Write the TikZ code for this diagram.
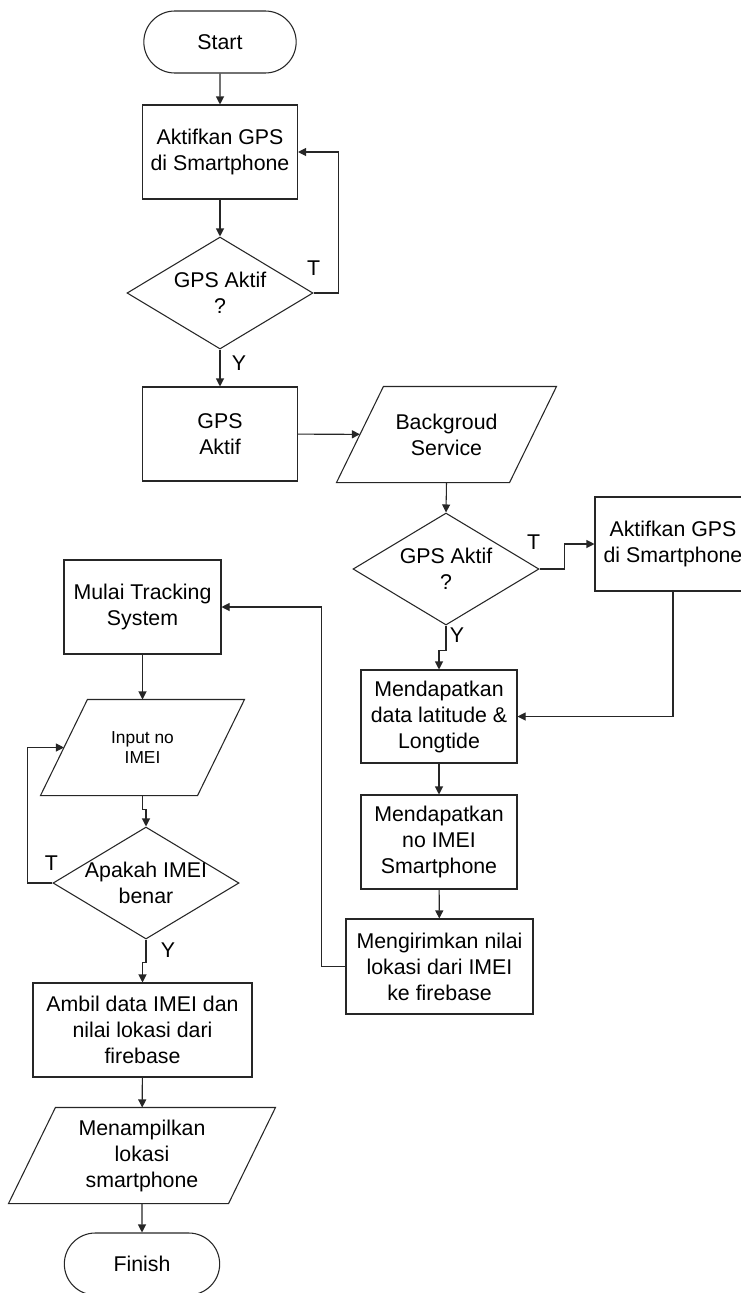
\documentclass[tikz,border=0pt]{standalone}
\usepackage{fontspec}
\setmainfont{Liberation Sans}
\usetikzlibrary{shapes.geometric,shapes.misc,arrows.meta}

\tikzset{
  line/.style={draw=black!85, line width=0.8pt},
  base/.style={line, align=center, font=\fontsize{16pt}{19.5pt}\selectfont, inner sep=1pt},
  term/.style={base, rounded rectangle, minimum width=116.25pt, minimum height=46.5pt},
  proc/.style={base, rectangle, minimum width=116.25pt, minimum height=70.5pt},
  io/.style={base, draw=none, rectangle, minimum height=71.25pt},
  decision/.style={base, diamond, minimum width=139.5pt, minimum height=84pt, inner sep=0pt},
  dtext/.style={align=center, font=\fontsize{16pt}{19.5pt}\selectfont, inner sep=0pt},
  lbl/.style={font=\fontsize{16pt}{16pt}\selectfont, inner sep=0pt},
  arr/.style={line, -{Triangle[length=6pt,width=6pt]}},
}

\begin{document}
\begin{tikzpicture}[x=0.75pt, y=-0.75pt]
  \useasboundingbox (0,0) rectangle (741,1293);
  % start and first check
  \node [term] (start) at (220,42) {Start};
  \node [proc] (akt1) at (220,152) {Aktifkan GPS\\di Smartphone};
  \node [decision, label={[dtext]center:{GPS Aktif\\?}}] (cek1) at (220,293) {};
  \node [proc] (gpson) at (220,434) {GPS\\Aktif};
  % background service
  \node [io, minimum width=129pt] (bgs) at (446.5,434.5) {Backgroud\\Service};
  \node [decision, label={[dtext]center:{GPS Aktif\\?}}] (cek2) at (446,569) {};
  \node [proc, minimum width=117pt] (akt2) at (673,544) {Aktifkan GPS\\di Smartphone};
  \node [proc, minimum width=117pt, minimum height=69.75pt] (lat) at (439,716.5) {Mendapatkan\\data latitude \&\\Longtide};
  \node [proc, minimum width=117pt] (imei) at (439,842) {Mendapatkan\\no IMEI\\Smartphone};
  \node [proc, minimum width=140.25pt, minimum height=71.25pt] (kirim) at (439.5,966.5) {Mengirimkan nilai\\lokasi dari IMEI\\ke firebase};
  % tracking system
  \node [proc, minimum width=117.75pt] (mulai) at (142.5,607) {Mulai Tracking\\System};
  \node [io, minimum width=117pt, font=\fontsize{13pt}{15pt}\selectfont] (inp) at (142.5,747.5) {Input no\\IMEI};
  \node [decision, label={[dtext]center:{Apakah IMEI\\benar}}] (cek3) at (146,883) {};
  \node [proc, minimum width=164.25pt] (ambil) at (142.5,1030) {Ambil data IMEI dan\\nilai lokasi dari\\firebase};
  \node [io, minimum width=164.25pt] (tampil) at (142,1155.5) {Menampilkan\\lokasi\\smartphone};
  \node [term, minimum width=118.5pt] (finish) at (142,1264) {Finish};
  % slanted sides of the data boxes
  \foreach \n in {bgs,inp,tampil}
    \draw [line] ([xshift=-17.6pt]\n.south west) -- ([xshift=17.6pt]\n.north west)
      -- ([xshift=17.6pt]\n.north east) -- ([xshift=-17.6pt]\n.south east) -- cycle;
  % branch labels
  \node [lbl] (t1) at ([shift={(0,-25)}]cek1.east) {T};
  \node [lbl] (y1) at ([shift={(19,14)}]cek1.south) {Y};
  \node [lbl] (t2) at ([shift={(-6,-27)}]cek2.east) {T};
  \node [lbl] (y2) at ([shift={(11,10)}]cek2.south) {Y};
  \node [lbl] (t3) at ([shift={(-1,-20)}]cek3.west) {T};
  \node [lbl] (y3) at ([shift={(22,11)}]cek3.south) {Y};
  % connectors
  \draw [arr] (start) -- (akt1);
  \draw [arr] (akt1) -- (cek1);
  \draw [arr] (cek1.east) -- ++(25,0) |- (akt1);
  \draw [arr] (cek1) -- (gpson);
  \draw [arr] (gpson) -- (bgs);
  \draw [arr] (bgs.south) -- (cek2.north);
  \draw [arr] (cek2.east) -- ++(25,0) |- (akt2);
  \draw [arr] (akt2) |- (lat);
  \draw [arr] (cek2.south) -- ++(0,25) -| (lat.north);
  \draw [arr] (lat) -- (imei);
  \draw [arr] (imei) -- (kirim);
  \draw [arr] (kirim.west) -- ++(-24,0) |- (mulai);
  \draw [arr] (mulai) -- (inp);
  \draw [arr] (inp.south) -- ++(0,14) -| (cek3.north);
  \draw [arr] (cek3.west) -- ++(-25,0) |- (inp);
  \draw [arr] (cek3.south) -- ++(0,23) -| (ambil.north);
  \draw [arr] (ambil) -- (tampil);
  \draw [arr] (tampil) -- (finish);
\end{tikzpicture}
\end{document}
